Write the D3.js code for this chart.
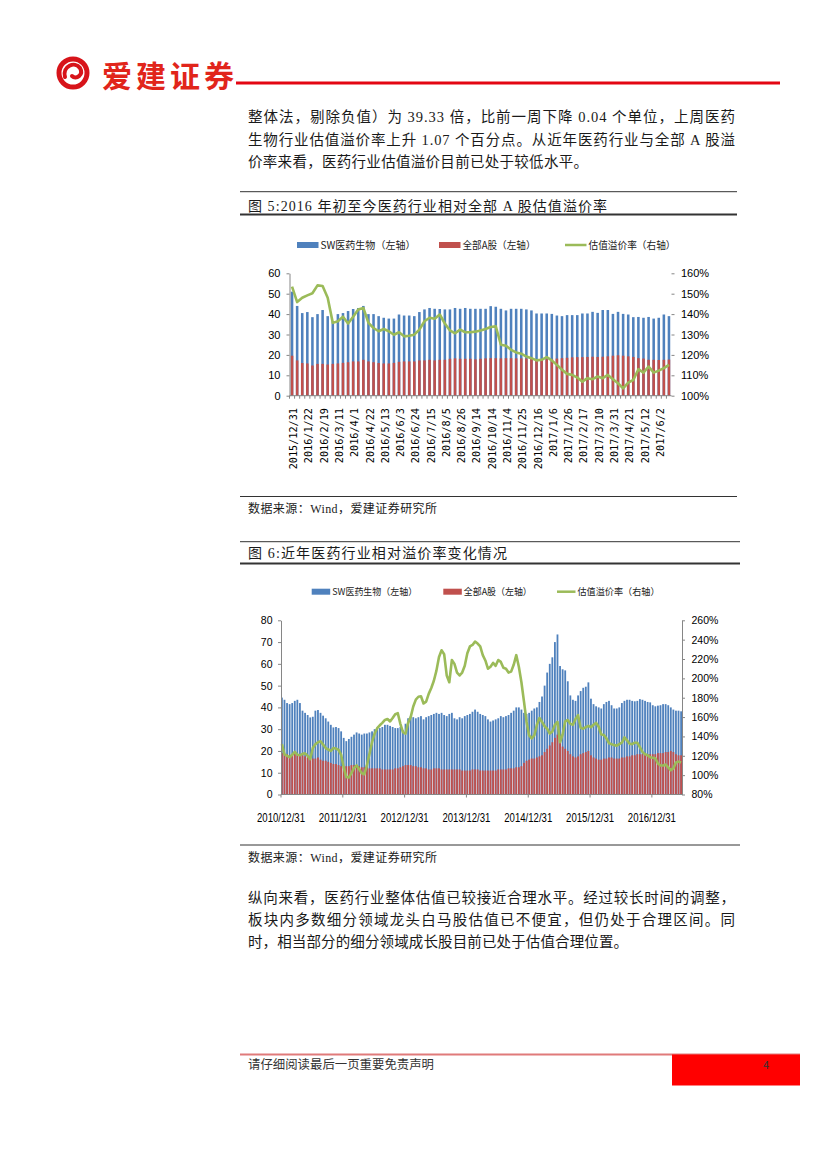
<!DOCTYPE html>
<html>
<head>
<meta charset="utf-8">
<script src="https://cdn.jsdelivr.net/npm/d3@7"></script>
<style>
  body { margin: 0; background: #fff; }
  text { font-family: "Noto Sans CJK SC", sans-serif; }
</style>
</head>
<body>
<div id="page"></div>
<script>
// ---------- data: figure 5 (weekly, 2015/12/31 - 2017/6) ----------
const c1Labels = ["2015/12/31", "2016/1/22", "2016/2/19", "2016/3/11", "2016/4/1", "2016/4/22",
  "2016/5/13", "2016/6/3", "2016/6/24", "2016/7/15", "2016/8/5", "2016/8/26", "2016/9/14",
  "2016/10/14", "2016/11/4", "2016/11/25", "2016/12/16", "2017/1/6", "2017/1/26", "2017/2/17",
  "2017/3/10", "2017/3/31", "2017/4/21", "2017/5/12", "2017/6/2"];

const c1Pharma = [51, 44, 40.5, 41, 38.5, 40, 42, 39, 36.5, 40,
  40.5, 41.5, 42.5, 43, 44, 40, 40, 39, 38.2, 37.8,
  37.8, 39.8, 39.3, 39.3, 39, 41, 42.3, 43, 42.6, 42.5,
  42.3, 42.3, 43, 42.6, 43, 42.6, 42.6, 42.6, 42.6, 43.9,
  43.6, 42.6, 41.8, 42.6, 42.6, 42.6, 42.3, 41.8, 40.3, 40.3,
  40.3, 40.1, 39.3, 39, 39.5, 39.5, 39.5, 40.3, 40.3, 41.1,
  40.6, 42, 42, 40.1, 41.1, 40.1, 39.8, 38.5, 38.6, 38.2,
  38.6, 37.8, 38.2, 39.8, 39];

const c1AllA = [19.6, 17.3, 16, 15.8, 14.8, 15.6, 15.6, 15.3, 15.6, 15.8,
  16.1, 16.4, 16.8, 16.8, 17.6, 16.8, 16.4, 16, 15.8, 15.8,
  16.1, 16.6, 16.8, 16.8, 16.8, 17.3, 17.3, 17.6, 17.3, 17.6,
  17.6, 18.1, 18.3, 18.1, 18.1, 18.1, 17.8, 18.1, 18.3, 18.4,
  18.4, 18.3, 18.4, 18.4, 18.3, 18.3, 18.2, 18, 17.9, 17.8,
  17.9, 18, 18.2, 18.4, 18.6, 18.8, 18.9, 18.9, 19, 19.1,
  19, 19.1, 19.3, 19.6, 19.8, 19.6, 19.3, 19, 18.4, 18.2,
  17.6, 17.6, 17.5, 17.6, 17.7];

const c1Premium = [153.5, 145.9, 148, 149.2, 150.2, 154.1, 153.8, 148, 135.7, 136.5,
  138.7, 135.4, 138.7, 142.3, 143, 135.7, 133.2, 131.6, 132.7, 131.6,
  129.9, 131.1, 129.1, 129.4, 129.9, 132.4, 136.5, 138.2, 137.7, 139.8,
  135.4, 132, 130.6, 132.4, 131.1, 131.1, 131.4, 132, 132.7, 133.7,
  134, 125, 124.5, 122.5, 121.2, 120.6, 119.2, 118.4, 117.3, 117.6,
  118.9, 117.3, 115.1, 112.7, 110.7, 110.2, 108.9, 106.9, 108.6, 108.1,
  109.4, 108.6, 110.2, 108.1, 106.1, 103.6, 106.4, 107.7, 113, 111.3,
  114.3, 111.3, 112.3, 113.5, 115.1];

const c1LeftTicks = [0, 10, 20, 30, 40, 50, 60];
const c1RightTicks = [100, 110, 120, 130, 140, 150, 160];

// ---------- data: figure 6 (half-monthly, 2010/12/31 - 2017/6) ----------
const c2Years = ["2010/12/31", "2011/12/31", "2012/12/31", "2013/12/31", "2014/12/31", "2015/12/31", "2016/12/31"];

const c2Pharma = [
  44.5, 43.5, 42, 41.5, 42, 43, 43.5, 42, 38.5, 37.5, 36.5, 35.4, 35.7, 38.5, 38.8, 37.5, 36.2, 35, 33.5, 32, 30.8, 31, 30.5, 29,
  26, 24.5, 25.5, 26.5, 27.5, 28.5, 28, 27.5, 28, 28, 28.5, 29, 30, 30.5, 30.5, 31, 32, 32, 31.5, 31, 30.5, 30.5, 31, 29.5,
  32.5, 35, 36, 35.5, 35, 35.5, 36, 34.5, 35.5, 36, 36.5, 37, 37.5, 37, 37.5, 36.5, 36, 37, 37.5, 35, 34.5, 35.5, 35, 36,
  36.5, 37, 38, 39, 38, 37, 36.5, 36, 34.5, 33.5, 34, 34.5, 35, 36, 35.5, 36, 36.5, 37.5, 38.5, 40, 40, 39, 37.5, 37,
  37.5, 38.5, 39.5, 40, 42.5, 45, 50, 56, 60, 63, 70, 73.5, 59, 57.5, 57, 52, 45.5, 43.5, 43, 45.5, 47.5, 49, 49.5, 51.5,
  44, 41.5, 40.5, 40, 39.5, 41.5, 42.5, 43, 41, 39.5, 39.5, 40, 42, 43, 43.5, 43.5, 43, 42.8, 43, 43.8, 43.5, 43, 42.5, 42.3,
  41, 40.5, 40.8, 41, 41.5, 41.5, 41, 40, 39, 38.5, 38.5, 38.2];

const c2AllA = [
  19, 18.5, 18.5, 18, 18.5, 19, 18.5, 18.5, 18, 17.5, 17, 17, 16.5, 16.5, 17, 16, 15.5, 15.5, 15, 14.5, 14, 14, 13.5, 13,
  12.5, 13, 13, 13.5, 13.5, 13, 13, 12.5, 12.5, 12.5, 12, 12, 12, 12, 12, 11.5, 11.5, 11.5, 11.5, 11.5, 12, 12, 12.5, 13,
  13.5, 13.5, 13.5, 13, 13, 12.5, 12.5, 12, 12, 11.5, 11.5, 12, 12, 12, 11.5, 11.5, 11.5, 11.5, 11.5, 11.5, 11.5, 11.5, 11, 11,
  11, 11, 11.5, 11.5, 11.5, 11, 11, 11, 11, 11, 11, 11, 11.5, 11.5, 11.5, 11.5, 12, 12, 12, 12.5, 12.5, 13, 14.5, 15.5,
  16, 16.5, 16.5, 17, 17.5, 18, 19.5, 21, 22.5, 24, 26, 27.5, 24, 22, 21, 20, 18.5, 17.5, 17, 17.5, 18.5, 19, 19.5, 20,
  18, 17, 16.5, 16, 16, 16.5, 16.5, 17, 17, 16.5, 16.5, 16.5, 17, 17, 17.5, 17.5, 18, 18, 18.5, 18.5, 18.5, 18.5, 18.5, 18.5,
  18.5, 18.5, 19, 19, 19, 19.5, 19.5, 20, 19.5, 18.5, 18, 18];

const c2Premium = [
  132, 121.5, 120, 118.5, 121, 124, 121, 120.5, 122, 122.5, 120, 116.5, 128, 132, 134, 135, 131.5, 128, 126.5, 125, 128, 127.5, 126, 121,
  108, 98, 97.5, 102, 107.5, 110, 106, 102, 101, 110, 122, 134, 143, 148.5, 151.5, 154, 157, 158, 155.5, 159, 163, 164, 153, 144.5,
  143, 154, 160, 171, 178, 181, 181.5, 174, 176, 184, 190, 197.5, 208, 222, 229, 225, 203, 196, 219, 215, 206, 203, 206, 213,
  226, 233, 234.5, 238, 236, 233, 224, 218.5, 210, 212, 216, 213, 219, 217, 211, 210, 206, 207, 214, 224, 212, 196, 176, 155,
  141, 138, 141, 152, 159, 155, 150.5, 148, 143, 145, 152, 155, 134, 142, 155.5, 157, 153, 152, 158, 162, 149, 148, 149.5, 151,
  149.5, 152, 154, 150, 142, 141.5, 138, 133, 132, 131, 130.5, 132, 133.5, 139, 136, 132.5, 132, 133.5, 133.5, 129, 124, 121.5, 120.5, 118.5,
  118, 117.5, 112, 110, 110, 111, 108, 105, 107, 113, 114, 113];

const c2LeftTicks = [0, 10, 20, 30, 40, 50, 60, 70, 80];
const c2RightTicks = [80, 100, 120, 140, 160, 180, 200, 220, 240, 260];

const seriesNames = ["SW医药生物（左轴）", "全部A股（左轴）", "估值溢价率（右轴）"];

// colours
const BLUE = "#4F81BD", RED = "#C0504D", GREEN = "#9BBB59", AXIS = "#868686";
const TICKFONT = "'Liberation Sans', Arial, sans-serif";

const svg = d3.select("#page").append("svg")
  .attr("width", 827)
  .attr("height", 1169);

svg.append("rect").attr("width", 827).attr("height", 1169).attr("fill", "#fff");

// ---------- helpers ----------
function hline(x1, x2, y, w, color) {
  svg.append("line")
    .attr("x1", x1).attr("x2", x2).attr("y1", y).attr("y2", y)
    .attr("stroke", color).attr("stroke-width", w);
}

// a line of body text: latin runs in a serif face, the rest in CJK
function textLine(str, x, y, size, len) {
  const t = svg.append("text")
    .attr("x", x).attr("y", y)
    .attr("font-size", size)
    .attr("fill", "#1a1a1a")
    .style("white-space", "pre");
  str.split(/([\x20-\x7e]+)/).filter(s => s).forEach(s => {
    t.append("tspan")
      .attr("font-family", /^[\x20-\x7e]+$/.test(s) ? "'Liberation Serif', serif" : "'Noto Sans CJK SC', sans-serif")
      .text(s);
  });
  if (len) t.attr("textLength", len).attr("lengthAdjust", "spacing");
  return t;
}

// ---------- header ----------
svg.append("circle")
  .attr("cx", 73).attr("cy", 73).attr("r", 14)
  .attr("fill", "none").attr("stroke", "#D7141A").attr("stroke-width", 5);
svg.append("path")
  .attr("d", "M65,77 C62,66 75,61 80,68 C84,75 76,80 72,76")
  .attr("fill", "none").attr("stroke", "#D7141A").attr("stroke-width", 4)
  .attr("stroke-linecap", "round");
svg.append("text")
  .attr("x", 102).attr("y", 87)
  .attr("font-size", 30).attr("font-weight", 700)
  .attr("fill", "#E1251B")
  .attr("textLength", 132).attr("lengthAdjust", "spacing")
  .text("爱建证券");
hline(236, 780, 83, 3, "#E30613");

// ---------- first paragraph ----------
textLine("整体法，剔除负值）为 39.33 倍，比前一周下降 0.04 个单位，上周医药", 248, 122, 14.5, 487);
textLine("生物行业估值溢价率上升 1.07 个百分点。从近年医药行业与全部 A 股溢", 248, 144.5, 14.5, 487);
textLine("价率来看，医药行业估值溢价目前已处于较低水平。", 248, 167, 14.5, 340);

// ---------- figure titles / rules ----------
hline(240, 737, 191.7, 1, "#333");
textLine("图 5:2016 年初至今医药行业相对全部 A 股估值溢价率", 248, 211, 14, 359);
hline(240, 737, 214.5, 2, "#333");

hline(240, 737, 496.5, 1, "#333");
textLine("数据来源：Wind，爱建证券研究所", 248, 513, 12, 189);

hline(240, 740, 541.7, 1, "#333");
textLine("图 6:近年医药行业相对溢价率变化情况", 248, 558, 14, 259);
hline(240, 740, 563.5, 2, "#333");

hline(240, 740, 845, 1, "#333");
textLine("数据来源：Wind，爱建证券研究所", 248, 862, 12, 189);

// ---------- legend ----------
function legend(cfg) {
  const g = svg.append("g").attr("font-size", cfg.size).attr("fill", "#222");
  g.append("rect").attr("x", cfg.blueX).attr("y", cfg.y - 3).attr("width", cfg.sw).attr("height", 6).attr("fill", BLUE);
  g.append("rect").attr("x", cfg.redX).attr("y", cfg.y - 3).attr("width", cfg.sw).attr("height", 6).attr("fill", RED);
  g.append("line").attr("x1", cfg.greenX).attr("x2", cfg.greenX + cfg.sw)
    .attr("y1", cfg.y).attr("y2", cfg.y).attr("stroke", GREEN).attr("stroke-width", 2.5);
  const xs = [cfg.blueX + cfg.sw + 2, cfg.redX + cfg.sw + 2, cfg.greenX + cfg.sw + 2];
  seriesNames.forEach((n, i) => {
    g.append("text").attr("x", xs[i]).attr("y", cfg.y).attr("dy", "0.36em")
      .attr("textLength", cfg.lens[i]).attr("lengthAdjust", "spacingAndGlyphs")
      .text(n);
  });
}

legend({ y: 245, size: 10, sw: 21.5, blueX: 297, redX: 439, greenX: 565, lens: [95, 73, 87] });
legend({ y: 591.7, size: 9.5, sw: 18.5, blueX: 311.7, redX: 443.3, greenX: 557, lens: [85, 68, 82] });

// ---------- combo chart ----------
function combo(cfg) {
  const n = cfg.pharma.length;
  const x = d3.scaleBand()
    .domain(d3.range(n))
    .range(cfg.xr)
    .paddingInner(cfg.pad)
    .paddingOuter(cfg.padOut);
  const yL = d3.scaleLinear().domain(d3.extent(cfg.leftTicks)).range(cfg.yr);
  const yR = d3.scaleLinear().domain(d3.extent(cfg.rightTicks)).range(cfg.yr);
  const bw = x.bandwidth();

  const g = svg.append("g");

  // bars: pharma behind, all-A in front
  g.selectAll(".pharma").data(cfg.pharma).enter().append("rect")
    .attr("class", "pharma")
    .attr("x", (d, i) => x(i)).attr("width", bw)
    .attr("y", d => yL(d)).attr("height", d => yL(0) - yL(d))
    .attr("fill", BLUE);
  g.selectAll(".alla").data(cfg.allA).enter().append("rect")
    .attr("class", "alla")
    .attr("x", (d, i) => x(i)).attr("width", bw)
    .attr("y", d => yL(d)).attr("height", d => yL(0) - yL(d))
    .attr("fill", RED);

  // premium line
  const line = d3.line()
    .x((d, i) => x(i) + bw / 2)
    .y(d => yR(d));
  g.append("path").datum(cfg.premium)
    .attr("d", line)
    .attr("fill", "none").attr("stroke", GREEN)
    .attr("stroke-width", cfg.lineW)
    .attr("stroke-linejoin", "round");

  // left axis
  const ax = g.append("g")
    .attr("transform", `translate(${cfg.xr[0]},0)`)
    .call(d3.axisLeft(yL).tickValues(cfg.leftTicks).tickSize(3).tickSizeOuter(0).tickPadding(cfg.padL).tickFormat(d3.format("d")));
  // right axis
  const ar = g.append("g")
    .attr("transform", `translate(${cfg.xr[1]},0)`)
    .call(d3.axisRight(yR).tickValues(cfg.rightTicks).tickSize(3).tickSizeOuter(0).tickPadding(cfg.padR).tickFormat(d => d + "%"));
  if (!cfg.rightLine) ar.select(".domain").remove();

  [ax, ar].forEach(a => {
    a.select(".domain").attr("stroke", AXIS);
    a.selectAll(".tick line").attr("stroke", AXIS);
    a.selectAll(".tick text").attr("fill", "#000").style("font-family", TICKFONT).style("font-size", cfg.tickFont + "px");
  });

  // bottom axis line
  g.append("line")
    .attr("x1", cfg.xr[0]).attr("x2", cfg.xr[1])
    .attr("y1", yL(0)).attr("y2", yL(0))
    .attr("stroke", AXIS);

  return { g, x, yL, bw };
}

// figure 5
const f5 = combo({
  pharma: c1Pharma, allA: c1AllA, premium: c1Premium,
  leftTicks: c1LeftTicks, rightTicks: c1RightTicks,
  xr: [289.5, 671.5], yr: [395.7, 273.3],
  pad: 0.5, padOut: 0.25, lineW: 2.6,
  padL: 6, padR: 6.5, tickFont: 11, rightLine: false
});

// ticks between every bar and date labels every third bar
const step5 = f5.x.step();
f5.g.selectAll(".xt").data(c1Pharma).enter().append("line")
  .attr("x1", (d, i) => f5.x(i) - (step5 - f5.bw) / 2)
  .attr("x2", (d, i) => f5.x(i) - (step5 - f5.bw) / 2)
  .attr("y1", f5.yL(0)).attr("y2", f5.yL(0) + 3)
  .attr("stroke", AXIS);
f5.g.selectAll(".xl").data(c1Labels).enter().append("text")
  .attr("transform", (d, i) => `translate(${f5.x(i * 3) + f5.bw / 2 + 1.5},408) rotate(-90)`)
  .attr("text-anchor", "end")
  .attr("dy", "0.35em")
  .style("font-family", "'DejaVu Sans Mono', monospace")
  .style("font-size", "10.2px")
  .attr("fill", "#000")
  .text(d => d);

// figure 6
const f6 = combo({
  pharma: c2Pharma, allA: c2AllA, premium: c2Premium,
  leftTicks: c2LeftTicks, rightTicks: c2RightTicks,
  xr: [281, 682], yr: [794.5, 620.3],
  pad: 0.3, padOut: 0, lineW: 2.6,
  padL: 5.5, padR: 6.5, tickFont: 10.5, rightLine: true
});

f6.g.selectAll(".yt").data(c2Years).enter().append("line")
  .attr("x1", (d, i) => f6.x(i * 24)).attr("x2", (d, i) => f6.x(i * 24))
  .attr("y1", f6.yL(0)).attr("y2", f6.yL(0) + 3)
  .attr("stroke", AXIS);
f6.g.selectAll(".yl").data(c2Years).enter().append("text")
  .attr("x", (d, i) => f6.x(i * 24) - 24)
  .attr("y", 818)
  .attr("dy", "0.35em")
  .attr("textLength", 48).attr("lengthAdjust", "spacingAndGlyphs")
  .style("font-family", TICKFONT)
  .style("font-size", "12px")
  .attr("fill", "#000")
  .text(d => d);

// ---------- closing paragraph ----------
textLine("纵向来看，医药行业整体估值已较接近合理水平。经过较长时间的调整，", 248, 903, 14.5, 487);
textLine("板块内多数细分领域龙头白马股估值已不便宜，但仍处于合理区间。同", 248, 925, 14.5, 487);
textLine("时，相当部分的细分领域成长股目前已处于估值合理位置。", 248, 947, 14.5, 380);

// ---------- footer ----------
hline(240, 800, 1054.5, 2, "#E07A7A");
svg.append("rect").attr("x", 672).attr("y", 1054.5).attr("width", 128).attr("height", 31).attr("fill", "#FF0000");
svg.append("text").attr("x", 766).attr("y", 1069).attr("text-anchor", "middle")
  .attr("font-size", 11).attr("fill", "#333").text("4");
svg.append("text").attr("x", 248).attr("y", 1069)
  .attr("font-size", 12.4).attr("fill", "#333")
  .attr("textLength", 186).attr("lengthAdjust", "spacing")
  .text("请仔细阅读最后一页重要免责声明");
</script>
</body>
</html>
